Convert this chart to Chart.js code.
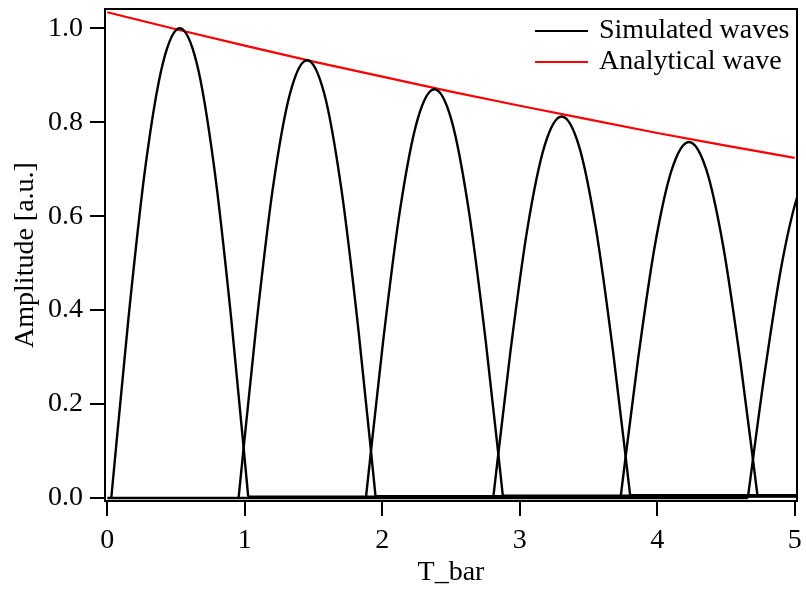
<!DOCTYPE html>
<html>
<head>
<meta charset="utf-8">
<script src="https://cdn.jsdelivr.net/npm/chart.js@4/dist/chart.umd.min.js"></script>
<style>
  html, body { margin: 0; padding: 0; background: #fff; }
  #wrap { width: 806px; height: 592px; }
</style>
</head>
<body>
<div id="wrap"><canvas id="waveChart" width="806" height="592"></canvas></div>
<script>
// tick values
const xTicks = [0, 1, 2, 3, 4, 5];
const yTicks = [0, 0.2, 0.4, 0.6, 0.8, 1.0];

// simulated waves, one hump each [T_bar, amplitude]
const wave1 = [[0.029, 0], [0.154, 0.383], [0.278, 0.707], [0.403, 0.924], [0.527, 1.0], [0.652, 0.924], [0.776, 0.707], [0.901, 0.383], [1.025, 0.003]];
const wave2 = [[0.955, 0], [1.080, 0.357], [1.204, 0.659], [1.329, 0.861], [1.453, 0.932], [1.578, 0.861], [1.702, 0.659], [1.827, 0.357], [1.951, 0.004]];
const wave3 = [[1.881, 0], [2.006, 0.333], [2.130, 0.615], [2.255, 0.804], [2.379, 0.870], [2.504, 0.804], [2.628, 0.615], [2.753, 0.333], [2.877, 0.005]];
const wave4 = [[2.807, 0], [2.932, 0.311], [3.056, 0.574], [3.181, 0.750], [3.305, 0.812], [3.430, 0.750], [3.554, 0.574], [3.679, 0.311], [3.803, 0.006]];
const wave5 = [[3.733, 0], [3.858, 0.290], [3.982, 0.536], [4.107, 0.700], [4.231, 0.758], [4.356, 0.700], [4.480, 0.536], [4.605, 0.290], [4.729, 0.006]];
const wave6 = [[4.659, 0], [4.784, 0.271], [4.908, 0.501], [5.033, 0.654], [5.157, 0.708]];

// flat parts of the waves before / after each hump
const zeroLine = [[0, 0], [4.659, 0]];
const tail1 = [[1.025, 0.003], [5.02, 0.003]];
const tail2 = [[1.951, 0.004], [5.02, 0.004]];
const tail3 = [[2.877, 0.005], [5.02, 0.005]];
const tail4 = [[3.803, 0.006], [5.02, 0.006]];
const tail5 = [[4.729, 0.006], [5.02, 0.006]];

// analytical wave
const analytical = [[0, 1.034], [0.5, 0.998], [1, 0.963], [1.5, 0.929], [2, 0.897], [2.5, 0.865], [3, 0.835], [3.5, 0.806], [4, 0.777], [4.5, 0.750], [5, 0.724]];

const legendLabels = ['Simulated waves', 'Analytical wave'];
const legendColors = ['#000000', '#ff0000'];

const FONT = '"Liberation Serif", "Times New Roman", serif';

function humpSet(pts) {
    return {
        data: pts,
        borderColor: '#000',
        borderWidth: 2.4,
        pointRadius: 0,
        fill: false,
        cubicInterpolationMode: 'monotone'
    };
}
function flatSet(pts) {
    return { data: pts, borderColor: '#000', borderWidth: 2.4, pointRadius: 0, fill: false, tension: 0 };
}

// no extra room for edge labels, the plot box is set by hand
function noPad(scale) {
    scale.paddingTop = 0;
    scale.paddingBottom = 0;
    scale.paddingLeft = 0;
    scale.paddingRight = 0;
}

// box around the plot + legend inside it
const framePlugin = {
    id: 'frame',
    afterDraw(chart) {
        const { ctx, chartArea: a } = chart;
        ctx.save();
        ctx.strokeStyle = '#000';
        ctx.lineWidth = 2;
        ctx.strokeRect(a.left, a.top, a.right - a.left, a.bottom - a.top);

        ctx.font = '28px ' + FONT;
        ctx.textBaseline = 'middle';
        ctx.textAlign = 'left';
        legendLabels.forEach(function(lbl, i) {
            const y = a.top + 22 + i * 31;
            ctx.strokeStyle = legendColors[i];
            ctx.lineWidth = 2;
            ctx.beginPath();
            ctx.moveTo(a.right - 262, y);
            ctx.lineTo(a.right - 209, y);
            ctx.stroke();
            ctx.fillStyle = '#000';
            ctx.fillText(lbl, a.right - 198, y);
        });
        ctx.restore();
    }
};

new Chart(document.getElementById('waveChart').getContext('2d'), {
    type: 'line',
    data: {
        datasets: [
            flatSet(zeroLine), flatSet(tail1), flatSet(tail2), flatSet(tail3), flatSet(tail4), flatSet(tail5),
            humpSet(wave1), humpSet(wave2), humpSet(wave3), humpSet(wave4), humpSet(wave5), humpSet(wave6),
            { data: analytical, borderColor: '#ff0000', borderWidth: 2.2, pointRadius: 0, fill: false, tension: 0 }
        ]
    },
    options: {
        responsive: false,
        animation: false,
        layout: { padding: { top: 9, right: 9, left: 0, bottom: 0 } },
        plugins: { legend: { display: false }, tooltip: { enabled: false } },
        scales: {
            x: {
                type: 'linear',
                min: -0.0167,
                max: 5.0167,
                afterBuildTicks: function(scale) { scale.ticks = xTicks.map(v => ({ value: v })); },
                afterFit: function(scale) { scale.height = 91; noPad(scale); },
                ticks: {
                    color: '#000',
                    padding: 8,
                    maxRotation: 0,
                    font: { family: FONT, size: 28 },
                    callback: v => String(v)
                },
                grid: { drawOnChartArea: false, drawTicks: true, tickLength: 15, color: '#000', lineWidth: 2 },
                border: { display: true, color: '#000', width: 2 },
                title: { display: true, text: 'T_bar', color: '#000', font: { family: FONT, size: 28 }, padding: { top: 0, bottom: 3 } }
            },
            y: {
                type: 'linear',
                min: -0.0064,
                max: 1.041,
                afterBuildTicks: function(scale) { scale.ticks = yTicks.map(v => ({ value: v })); },
                afterFit: function(scale) { scale.width = 105; noPad(scale); },
                ticks: {
                    color: '#000',
                    padding: 7,
                    font: { family: FONT, size: 28 },
                    callback: v => v.toFixed(1)
                },
                grid: { drawOnChartArea: false, drawTicks: true, tickLength: 15, color: '#000', lineWidth: 2 },
                border: { display: true, color: '#000', width: 2 },
                title: { display: true, text: 'Amplitude [a.u.]', color: '#000', font: { family: FONT, size: 28 }, padding: { top: 9, bottom: 0 } }
            }
        }
    },
    plugins: [framePlugin]
});
</script>
</body>
</html>
